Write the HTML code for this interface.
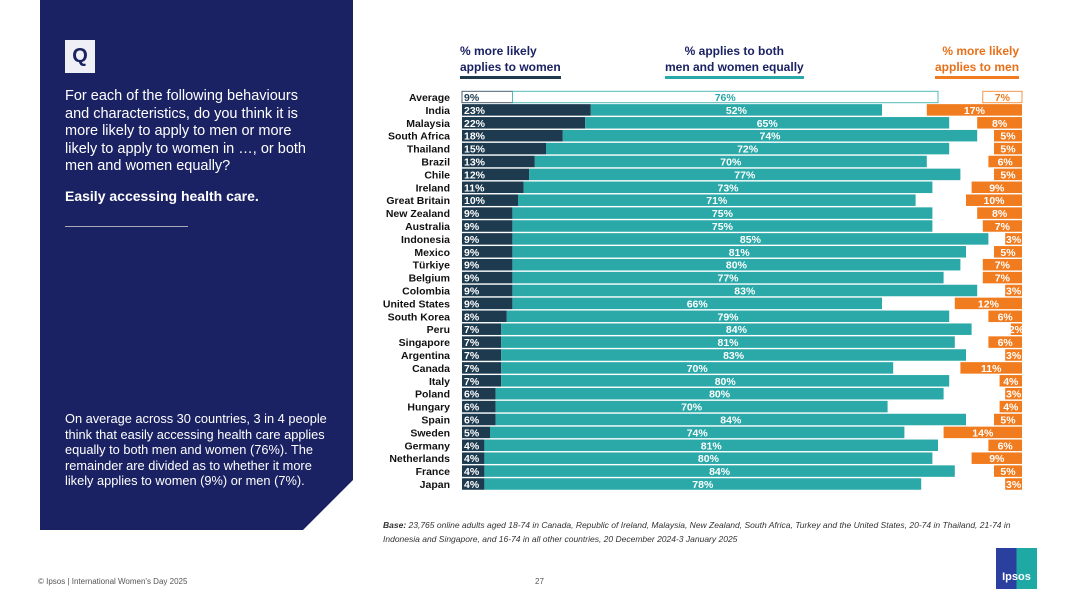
<!DOCTYPE html>
<html><head><meta charset="utf-8"><style>
body{margin:0;width:1080px;height:608px;background:#fff;font-family:"Liberation Sans",sans-serif;position:relative;overflow:hidden}
.panel{position:absolute;left:40px;top:0;width:313px;height:530px;background:#1a2263;clip-path:polygon(0 0,100% 0,100% 480px,263px 530px,0 530px)}
.q{position:absolute;left:65px;top:40px;width:30px;height:33px;background:#eef0f6;color:#1a2263;font-weight:bold;font-size:20px;text-align:center;line-height:33px}
.txt{position:absolute;left:65px;color:#fff;font-size:14.5px;line-height:17.5px}
.hdr{position:absolute;font-size:12px;font-weight:bold;color:#1a2263;line-height:16px}
</style></head><body>
<div class="panel"></div>
<div class="q">Q</div>
<div class="txt" style="top:88px;width:248px">For each of the following behaviours and characteristics, do you think it is more likely to apply to men or more likely to apply to women in …, or both men and women equally?</div>
<div class="txt" style="top:188px;font-weight:bold;font-size:14px">Easily accessing health care.</div>
<div style="position:absolute;left:65px;top:226px;width:123px;height:1px;background:#aab"></div>
<div class="txt" style="top:411px;width:262px;font-size:12.8px;line-height:15.5px">On average across 30 countries, 3 in 4 people think that easily accessing health care applies equally to both men and women (76%). The remainder are divided as to whether it more likely applies to women (9%) or men (7%).</div>
<div class="hdr" style="left:460px;top:43px;border-bottom:3px solid #1d3a4f;padding-bottom:1px">% more likely<br>applies to women</div>
<div class="hdr" style="left:665px;top:43px;text-align:center;border-bottom:3px solid #2aa9a8;padding-bottom:1px">% applies to both<br>men and women equally</div>
<div class="hdr" style="left:935px;top:43px;text-align:right;border-bottom:3px solid #f07c1f;padding-bottom:1px;color:#e8701a">% more likely<br>applies to men</div>
<svg id="chart" width="1080" height="608" style="position:absolute;left:0;top:0"></svg>
<div style="position:absolute;left:383px;top:518px;font-size:8.5px;line-height:14px;color:#333;font-style:italic;width:660px"><b>Base:</b> 23,765 online adults aged 18-74 in Canada, Republic of Ireland, Malaysia, New Zealand, South Africa, Turkey and the United States, 20-74 in Thailand, 21-74 in Indonesia and Singapore, and 16-74 in all other countries, 20 December 2024-3 January 2025</div>
<div style="position:absolute;left:38px;top:577px;font-size:8px;color:#555">© Ipsos | International Women's Day 2025</div>
<div style="position:absolute;left:535px;top:577px;font-size:8px;color:#555">27</div>
<div style="position:absolute;left:996px;top:548px;width:41px;height:41px;background:linear-gradient(90deg,#2b3f9e 50%,#1fa9a5 50%);color:#fff;font-size:11px;font-weight:bold;text-align:center;line-height:58px">Ipsos</div>
<script>
const countries=["Average","India","Malaysia","South Africa","Thailand","Brazil","Chile","Ireland","Great Britain","New Zealand","Australia","Indonesia","Mexico","Türkiye","Belgium","Colombia","United States","South Korea","Peru","Singapore","Argentina","Canada","Italy","Poland","Hungary","Spain","Sweden","Germany","Netherlands","France","Japan"];
const women=[9,23,22,18,15,13,12,11,10,9,9,9,9,9,9,9,9,8,7,7,7,7,7,6,6,6,5,4,4,4,4];
const equal=[76,52,65,74,72,70,77,73,71,75,75,85,81,80,77,83,66,79,84,81,83,70,80,80,70,84,74,81,80,84,78];
const men=[7,17,8,5,5,6,5,9,10,8,7,3,5,7,7,3,12,6,2,6,3,11,4,3,4,5,14,6,9,5,3];
const svg=document.getElementById('chart'),NS='http://www.w3.org/2000/svg';
const x0=462,sc=5.6,xr=1022,y0=97,step=12.9,bh=11.5;
const X=v=>x0+v*sc, Y=i=>y0+i*step;
function mk(t,a){const e=document.createElementNS(NS,t);for(const k in a)e.setAttribute(k,a[k]);svg.appendChild(e);return e;}
function txt(x,y,s,anchor,fill,w){const e=mk('text',{x:x,y:y+4,'text-anchor':anchor,fill:fill,'font-size':'10.5','font-weight':w||'bold','font-family':'Liberation Sans, sans-serif'});e.textContent=s;return e;}
countries.forEach((c,i)=>{
 const y=Y(i),avg=i===0;
 const l=txt(450,y,c,'end','#111');
 
 
 const w=mk('rect',{x:X(0),y:y-bh/2,width:women[i]*sc,height:bh,fill:avg?'#fff':'#1d3a4f',stroke:avg?'#1d3a4f':'none','stroke-width':0.8});
 
 
 const e=mk('rect',{x:X(women[i]),y:y-bh/2,width:equal[i]*sc,height:bh,fill:avg?'#fff':'#2aa9a8',stroke:avg?'#2aa9a8':'none','stroke-width':0.8});
 
 
 const m=mk('rect',{x:xr-men[i]*sc,y:y-bh/2,width:men[i]*sc,height:bh,fill:avg?'#fff':'#f07c1f',stroke:avg?'#f07c1f':'none','stroke-width':0.8});
 
 
 txt(X(0)+2,y,women[i]+'%','start',avg?'#1d3a4f':'#fff');
 txt(X(women[i])+equal[i]*sc/2,y,equal[i]+'%','middle',avg?'#2aa9a8':'#fff');
 txt(xr-men[i]*sc/2,y,men[i]+'%','middle',avg?'#f07c1f':'#fff');
});
</script>
</body></html>
